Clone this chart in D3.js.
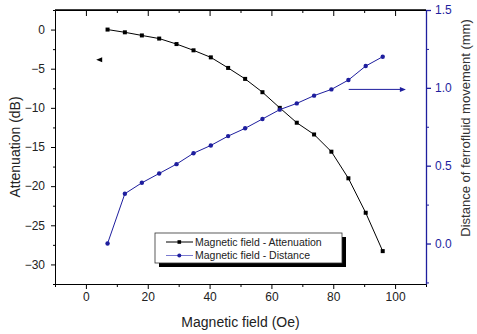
<!DOCTYPE html>
<html>
<head>
<meta charset="utf-8">
<script src="https://cdn.jsdelivr.net/npm/d3@7"></script>
<style>
  body { margin: 0; background: #fff; }
  svg { font-family: "Liberation Sans", Arial, sans-serif; }
</style>
</head>
<body>
<div id="chart"></div>
<script>
// Data
const field = [7, 12.6, 18.1, 23.7, 29.3, 34.8, 40.4, 46, 51.5, 57.1, 62.7, 68.2, 73.8, 79.4, 84.9, 90.5, 96];
const attenuation = [0, -0.35, -0.75, -1.15, -1.85, -2.65, -3.55, -4.9, -6.3, -8.0, -10.0, -11.9, -13.4, -15.6, -19.0, -23.4, -28.3];
const distance = [0, 0.32, 0.39, 0.45, 0.51, 0.58, 0.63, 0.69, 0.74, 0.8, 0.86, 0.9, 0.95, 0.99, 1.05, 1.14, 1.2];
const seriesNames = ["Magnetic field - Attenuation", "Magnetic field - Distance"];

const width = 477, height = 334;
const margin = { top: 10, right: 51, bottom: 50, left: 55 };
const blue = "#1e1e9e";

const svg = d3.select("#chart").append("svg")
  .attr("width", width).attr("height", height);

const x = d3.scaleLinear().domain([-10, 110]).range([margin.left, width - margin.right]);
const yL = d3.scaleLinear().domain([-32.5, 2.5]).range([height - margin.bottom, margin.top]);
const yR = d3.scaleLinear().domain([-0.26, 1.5]).range([height - margin.bottom, margin.top]);

const x0 = margin.left, x1 = width - margin.right;
const y0 = height - margin.bottom, y1 = margin.top;

// Bottom axis (major + minor, outward)
const xAxis = svg.append("g").attr("transform", `translate(0,${y0})`);
xAxis.call(d3.axisBottom(x).tickValues([0, 20, 40, 60, 80, 100]).tickSize(5).tickPadding(3).tickSizeOuter(0))
  .call(g => g.selectAll("text").style("font-size", "12px").attr("fill", "#222"));
xAxis.append("g").call(d3.axisBottom(x).tickValues([-10, 10, 30, 50, 70, 90, 110]).tickSize(3).tickFormat(""))
  .call(g => g.select(".domain").remove());

// Top axis (inward ticks, no labels)
const xTop = svg.append("g").attr("transform", `translate(0,${y1})`);
xTop.call(d3.axisBottom(x).tickValues([0, 20, 40, 60, 80, 100]).tickSize(6).tickFormat("").tickSizeOuter(0));
xTop.append("g").call(d3.axisBottom(x).tickValues([10, 30, 50, 70, 90]).tickSize(3).tickFormat(""))
  .call(g => g.select(".domain").remove());

// Left axis
const yAxisL = svg.append("g").attr("transform", `translate(${x0},0)`);
yAxisL.call(d3.axisLeft(yL).tickValues([0, -5, -10, -15, -20, -25, -30]).tickSize(4).tickPadding(6).tickSizeOuter(0))
  .call(g => g.selectAll("text").style("font-size", "12px").attr("fill", "#222"));
yAxisL.append("g").call(d3.axisLeft(yL).tickValues([2.5, -2.5, -7.5, -12.5, -17.5, -22.5, -27.5, -32.5]).tickSize(2).tickFormat(""))
  .call(g => g.select(".domain").remove());

// Right axis (blue)
const yAxisR = svg.append("g").attr("transform", `translate(${x1},0)`);
yAxisR.call(d3.axisRight(yR).tickValues([0, 0.5, 1.0, 1.5]).tickSize(5).tickPadding(4).tickSizeOuter(0)
    .tickFormat(d3.format(".1f")))
  .call(g => g.selectAll("text").style("font-size", "12px").attr("fill", blue))
  .call(g => g.selectAll("line,path").attr("stroke", blue).attr("stroke-width", 1.3));
yAxisR.append("g").call(d3.axisRight(yR).tickValues([-0.25, 0.25, 0.75, 1.25]).tickSize(3).tickFormat(""))
  .call(g => g.select(".domain").remove())
  .call(g => g.selectAll("line").attr("stroke", blue));

// Top frame line
svg.append("line").attr("x1", x0).attr("x2", x1).attr("y1", y1).attr("y2", y1)
  .attr("stroke", "#000").attr("stroke-width", 1.5);

// Axis titles
svg.append("text")
  .attr("transform", `translate(16,${(y0 + y1) / 2}) rotate(-90)`)
  .attr("text-anchor", "middle").attr("dominant-baseline", "middle")
  .style("font-size", "14px").attr("fill", "#222")
  .text("Attenuation (dB)");

svg.append("text")
  .attr("x", (x0 + x1) / 2 + 0).attr("y", 327)
  .attr("text-anchor", "middle")
  .style("font-size", "14px").attr("fill", "#222")
  .text("Magnetic field (Oe)");

svg.append("text")
  .attr("transform", "translate(467,128) rotate(-90)")
  .attr("text-anchor", "middle").attr("dominant-baseline", "middle")
  .style("font-size", "13px").attr("fill", "#333")
  .text("Distance of ferrofluid movement (mm)");

// Series
const attData = field.map((f, i) => ({ x: f, y: attenuation[i] }));
const disData = field.map((f, i) => ({ x: f, y: distance[i] }));

svg.append("path").datum(attData)
  .attr("fill", "none").attr("stroke", "#000").attr("stroke-width", 1)
  .attr("d", d3.line().x(d => x(d.x)).y(d => yL(d.y)));
svg.selectAll(".att").data(attData).enter().append("rect")
  .attr("x", d => x(d.x) - 2).attr("y", d => yL(d.y) - 2)
  .attr("width", 4).attr("height", 4).attr("fill", "#000");

svg.append("path").datum(disData)
  .attr("fill", "none").attr("stroke", blue).attr("stroke-width", 1)
  .attr("d", d3.line().x(d => x(d.x)).y(d => yR(d.y)));
svg.selectAll(".dis").data(disData).enter().append("circle")
  .attr("cx", d => x(d.x)).attr("cy", d => yR(d.y))
  .attr("r", 2.2).attr("fill", blue);

// Arrow annotations
const ax = x(4.3), ay = yL(-3.85);
svg.append("path")
  .attr("d", `M${ax - 3},${ay} L${ax + 3},${ay - 2.5} L${ax + 3},${ay + 2.5} Z`)
  .attr("fill", "#000");

const bx0 = x(85), bx1 = x(103.5), by = yR(0.99);
svg.append("line").attr("x1", bx0).attr("x2", bx1 - 4).attr("y1", by).attr("y2", by)
  .attr("stroke", blue).attr("stroke-width", 1);
svg.append("path")
  .attr("d", `M${bx1},${by} L${bx1 - 6},${by - 2.5} L${bx1 - 6},${by + 2.5} Z`)
  .attr("fill", blue);

// Legend
const lg = svg.append("g").attr("transform", "translate(155,233)");
lg.append("rect").attr("x", 4).attr("y", 4).attr("width", 187).attr("height", 30).attr("fill", "#000");
lg.append("rect").attr("x", 0).attr("y", 0).attr("width", 187).attr("height", 30)
  .attr("fill", "#fff").attr("stroke", "#333").attr("stroke-width", 0.8);

seriesNames.forEach((name, i) => {
  const ly = 9 + i * 13.5;
  lg.append("line").attr("x1", 11).attr("x2", 38).attr("y1", ly).attr("y2", ly)
    .attr("stroke", i === 0 ? "#000" : "#7a7ad0").attr("stroke-width", 1);
  if (i === 0) {
    lg.append("rect").attr("x", 22.5).attr("y", ly - 1.8).attr("width", 3.6).attr("height", 3.6).attr("fill", "#000");
  } else {
    lg.append("circle").attr("cx", 24.3).attr("cy", ly).attr("r", 2).attr("fill", blue);
  }
  lg.append("text").attr("x", 40).attr("y", ly).attr("dy", "0.35em")
    .style("font-size", "10.5px").attr("fill", "#222")
    .text(name);
});
</script>
</body>
</html>
